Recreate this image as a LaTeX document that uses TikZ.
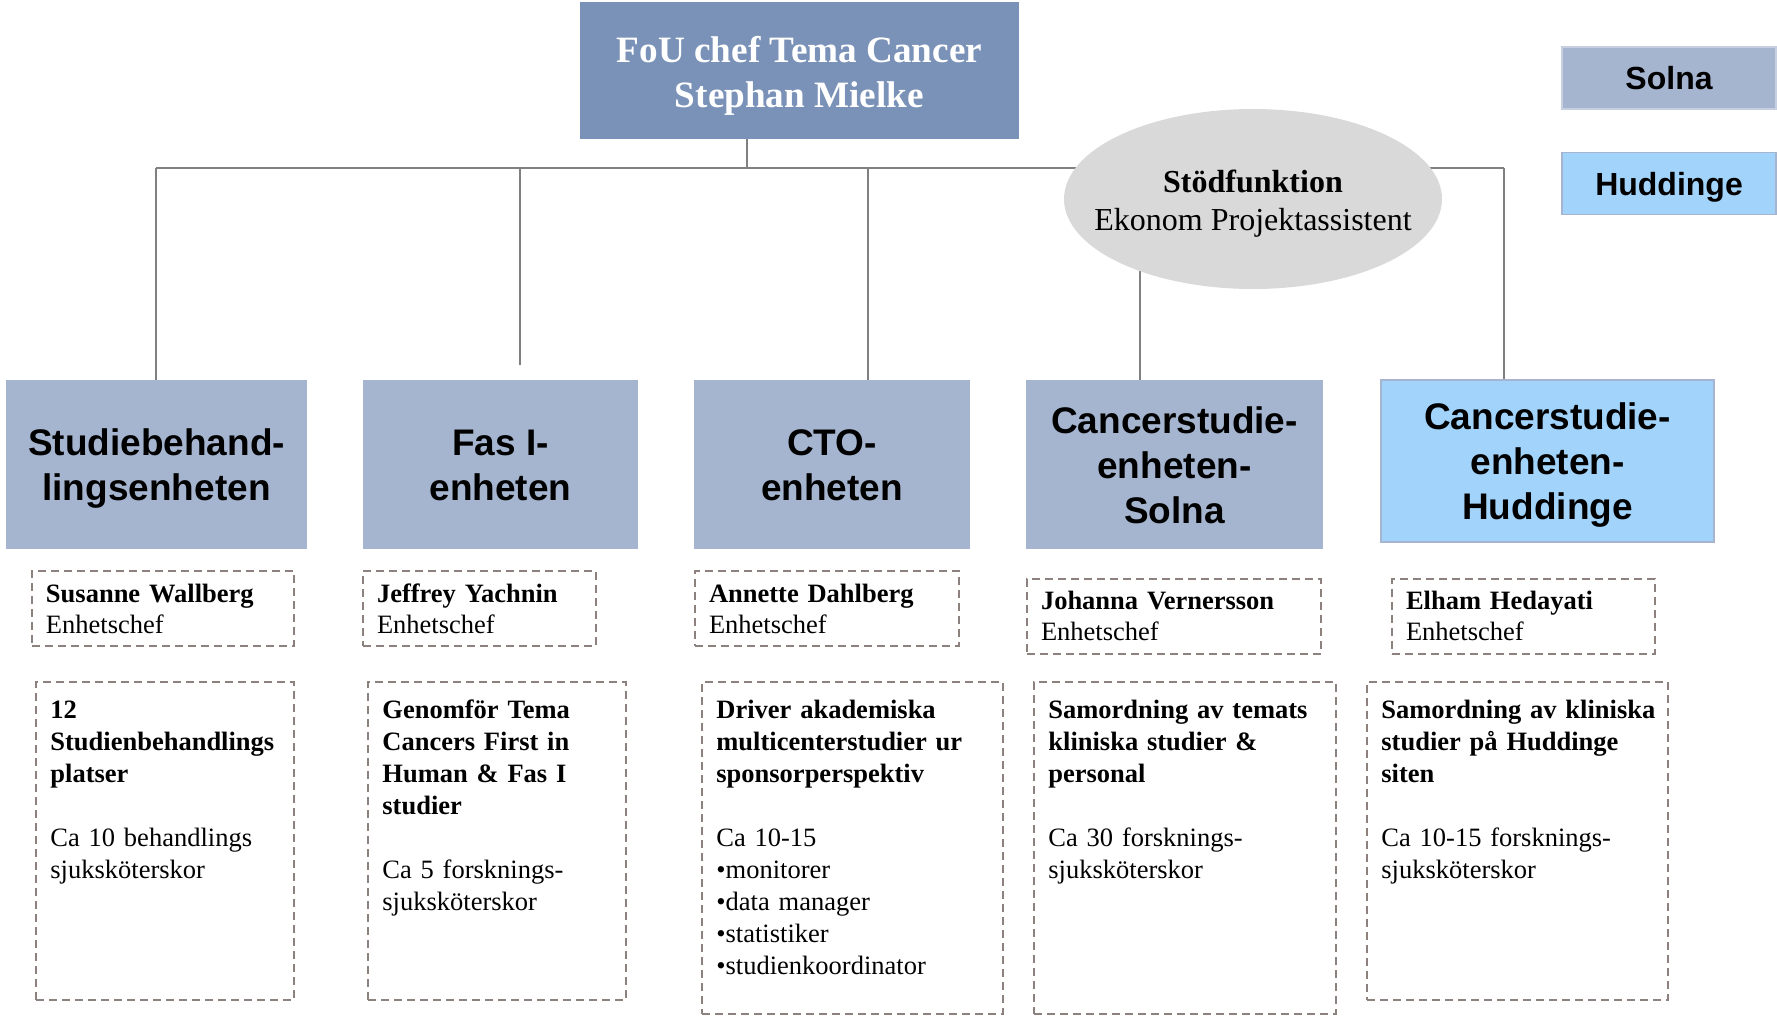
\documentclass[tikz,border=0pt]{standalone}
\usepackage{fontspec}
\setmainfont{Liberation Serif}
\setsansfont{Liberation Sans}
\usetikzlibrary{shapes.geometric,backgrounds}

\definecolor{chefblue}{HTML}{7A92B8}
\definecolor{unitblue}{HTML}{A5B5D0}
\definecolor{hudblue}{HTML}{A2D3FA}
\definecolor{ellgray}{HTML}{D9D9D9}
\definecolor{dashgray}{HTML}{8C817C}
\definecolor{linegray}{HTML}{808080}
\definecolor{legborder}{HTML}{C6D0E1}

\tikzset{
	chefbox/.style={fill=chefblue, inner sep=0pt},
	cheflabel/.style={text=white, align=center, inner sep=0pt, yshift=-2.75pt,
		font=\bfseries\fontsize{18.6}{22.5}\selectfont},
	unitbox/.style={fill=unitblue, minimum height=84.5pt, inner sep=0pt},
	unitlabel/.style={align=center, inner sep=0pt, yshift=-0.5pt,
		font=\sffamily\bfseries\fontsize{18.5}{22.5}\selectfont},
	legbox/.style={minimum width=107pt, minimum height=31pt, line width=0.8pt, inner sep=0pt, text depth=0pt,
		font=\sffamily\bfseries\fontsize{16}{19}\selectfont},
	namebox/.style={draw=dashgray, line width=1pt, dash pattern=on 4pt off 2.5pt,
		minimum height=37.5pt, inner xsep=7pt, inner ysep=0pt, align=left,
		font=\fontsize{13.25}{15.5}\selectfont},
	descbox/.style={draw=dashgray, line width=1pt, dash pattern=on 4pt off 2.5pt, inner sep=0pt},
	desctext/.style={inner sep=0pt, anchor=base west, align=left, text width=165pt,
		font=\fontsize{13.25}{16}\selectfont},
	orgline/.style={draw=linegray, line width=1pt},
}

\begin{document}
\begin{tikzpicture}[x=0.5pt,y=-0.5pt]
	\useasboundingbox (0,0) rectangle (1777,1019);

	%top box
	\node (chef) at (799.5,70.5) [chefbox, minimum width=219.5pt, minimum height=68.5pt,
		label={[cheflabel]center:{FoU chef Tema Cancer\\Stephan Mielke}}]{};

	%legend
	\node (legsolna) at (1669,78) [legbox, fill=unitblue, draw=legborder]{Solna};
	\node (leghud) at (1669,183.5) [legbox, fill=hudblue, draw=unitblue]{Huddinge};

	%units
	\node (u1) at (156.5,464.5) [unitbox, minimum width=150.5pt,
		label={[unitlabel, yshift=-1.75pt]center:{Studiebehand-\\lingsenheten}}]{};
	\node (u2) at (500.5,464.5) [unitbox, minimum width=137.5pt,
		label={[unitlabel]center:{Fas I-\\enheten}}]{};
	\node (u3) at (832,464.5) [unitbox, minimum width=138pt,
		label={[unitlabel]center:{CTO-\\enheten}}]{};
	\node (u4) at (1174.5,464.5) [unitbox, minimum width=148.5pt,
		label={[unitlabel]center:{Cancerstudie-\\enheten-\\Solna}}]{};
	\node (u5) at (1547.5,461) [unitbox, fill=hudblue, draw=unitblue, line width=0.8pt, minimum width=166.5pt, minimum height=81pt,
		label={[unitlabel, yshift=-1.75pt]center:{Cancerstudie-\\enheten-\\Huddinge}}]{};

	%support function
	\node (stod) at (1253,199) [ellipse, fill=ellgray, minimum width=189pt, minimum height=90pt, inner sep=0pt]{};
	\node (stodtext) at (stod.center) [align=center, inner sep=0pt, yshift=-2.25pt,
		font=\fontsize{16}{19}\selectfont]{\textbf{Stödfunktion}\\Ekonom Projektassistent};

	%connectors
	\coordinate (bus) at (747,168);
	\coordinate (b1) at (156,168);
	\coordinate (b2) at (520,168);
	\coordinate (b3) at (868,168);
	\coordinate (b4) at (1140,168);
	\coordinate (b5) at (1504,168);
	\coordinate (f2) at (520,365);
	\begin{scope}[on background layer]
		\draw[orgline] (chef.south -| bus) -- (bus);
		\draw[orgline] (b1) -- (b5);
		\draw[orgline] (b1) -- (b1 |- u1.north);
		\draw[orgline] (b2) -- (f2);
		\draw[orgline] (b3) -- (b3 |- u3.north);
		\draw[orgline] (stod.center -| b4) -- (b4 |- u4.north);
		\draw[orgline] (b5) -- (b5 |- u5.north);
	\end{scope}

	%unit heads
	\node (n1) at (163,608.5) [namebox, text width=117pt]{\textbf{Susanne Wallberg}\\Enhetschef};
	\node (n2) at (479.5,608.5) [namebox, text width=102.5pt]{\textbf{Jeffrey Yachnin}\\Enhetschef};
	\node (n3) at (827,608.5) [namebox, text width=118pt]{\textbf{Annette Dahlberg}\\Enhetschef};
	\node (n4) at (1174,616) [namebox, text width=133pt]{\textbf{Johanna Vernersson}\\Enhetschef};
	\node (n5) at (1523.5,616) [namebox, text width=117.5pt]{\textbf{Elham Hedayati}\\Enhetschef};

	%descriptions
	\node (d1) at (165,841) [descbox, minimum width=129pt, minimum height=159pt]{};
	\node (d2) at (497,841) [descbox, minimum width=129pt, minimum height=159pt]{};
	\node (d3) at (852.5,848) [descbox, minimum width=150.5pt, minimum height=166pt]{};
	\node (d4) at (1185,848) [descbox, minimum width=151pt, minimum height=166pt]{};
	\node (d5) at (1517.5,841) [descbox, minimum width=150.5pt, minimum height=159pt]{};

	\node (t1) at ([shift={(15,37)}]d1.north west) [desctext]{\textbf{12}\\\textbf{Studienbehandlings}\\\textbf{platser}\\[16pt]Ca 10 behandlings\\sjuksköterskor};
	\node (t2) at ([shift={(15,37)}]d2.north west) [desctext]{\textbf{Genomför Tema}\\\textbf{Cancers First in}\\\textbf{Human \& Fas I}\\\textbf{studier}\\[16pt]Ca 5 forsknings-\\sjuksköterskor};
	\node (t3) at ([shift={(15,37)}]d3.north west) [desctext]{\textbf{Driver akademiska}\\\textbf{multicenterstudier ur}\\\textbf{sponsorperspektiv}\\[16pt]Ca 10-15\\•monitorer\\•data manager\\•statistiker\\•studienkoordinator};
	\node (t4) at ([shift={(15,37)}]d4.north west) [desctext]{\textbf{Samordning av temats}\\\textbf{kliniska studier \&}\\\textbf{personal}\\[16pt]Ca 30 forsknings-\\sjuksköterskor};
	\node (t5) at ([shift={(15,37)}]d5.north west) [desctext]{\textbf{Samordning av kliniska}\\\textbf{studier på Huddinge}\\\textbf{siten}\\[16pt]Ca 10-15 forsknings-\\sjuksköterskor};
\end{tikzpicture}
\end{document}
